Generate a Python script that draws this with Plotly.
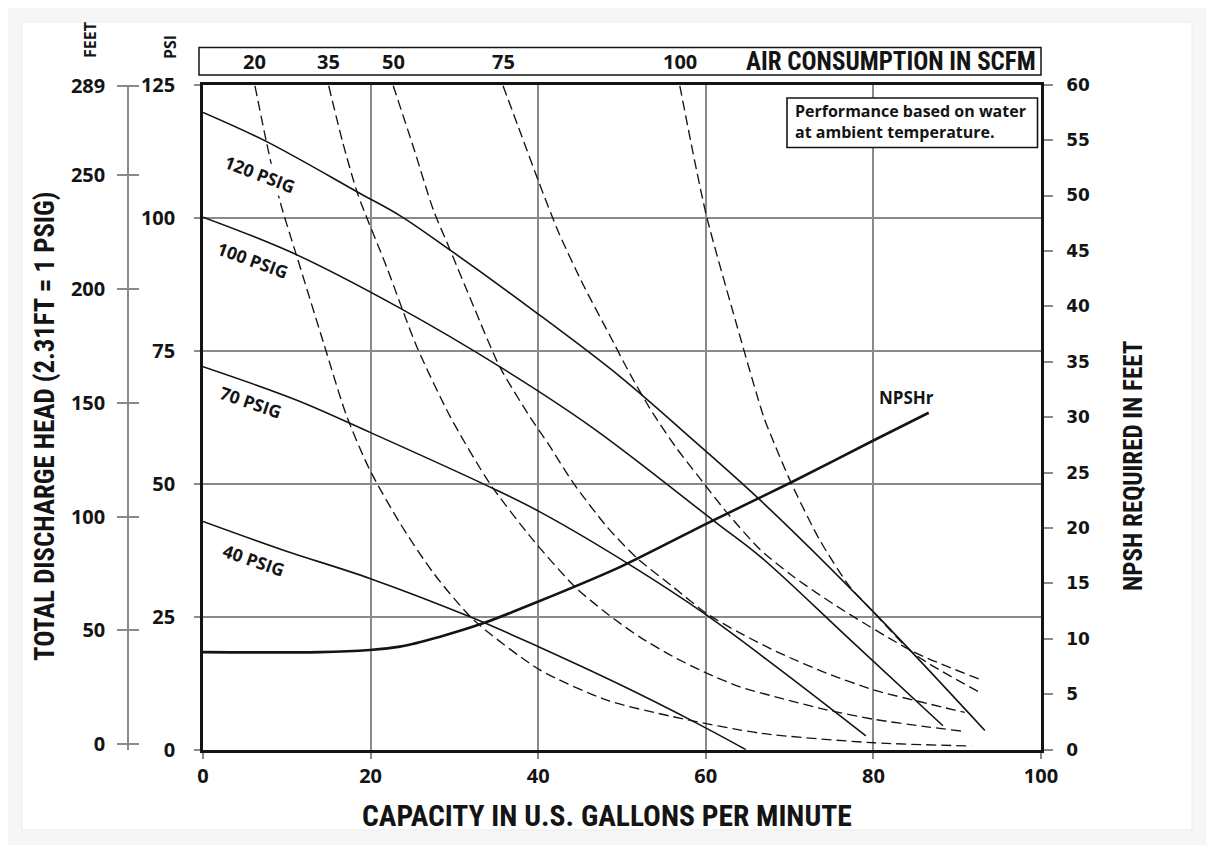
import plotly.graph_objects as go

# ---------------- data ----------------
# Discharge-pressure curves: capacity (US GPM) vs discharge head (PSI)
cap_120 = [0, 7.6, 18.7, 23.5, 29.5, 39.4, 49.8, 58.5, 66.5, 80.0, 93.3]
psi_120 = [119.8, 114.3, 104.6, 100.4, 93.9, 82.6, 70.1, 58.2, 46.9, 25.9, 3.6]

cap_100 = [0, 10.8, 23.5, 35.4, 46.5, 61.3, 66.5, 77.4, 88.3]
psi_100 = [100.1, 93.3, 83.0, 72.0, 60.5, 42.6, 36.3, 20.4, 4.5]

cap_70 = [0, 11.2, 20.0, 34.2, 40.2, 51.0, 60.1, 68.9, 79.1]
psi_70 = [72.0, 65.7, 59.6, 49.4, 44.7, 34.7, 25.3, 15.0, 2.6]

cap_40 = [0, 9.6, 19.9, 32.3, 40.1, 49.8, 58.9, 64.8]
psi_40 = [42.9, 37.5, 32.2, 24.7, 19.3, 12.2, 5.0, 0.0]

# Air consumption curves (SCFM)
air_20_cap = [6.2, 7.6, 9.2, 11.2, 14.4, 17.1, 19.9, 23.5, 27.5, 32.3, 40.2, 48.2, 56.1, 66.5, 80.1, 91.7]
air_20_psi = [124.8, 114.0, 103.0, 92.7, 76.4, 62.9, 52.6, 42.6, 33.2, 24.4, 15.0, 9.3, 6.2, 3.1, 1.3, 0.7]

air_35_cap = [15.0, 16.7, 18.5, 21.9, 25.5, 29.5, 34.2, 39.4, 44.4, 48.2, 52.1, 56.1, 60.1, 64.1, 68.9, 74.4, 80.1, 86.4, 90.5]
air_35_psi = [124.8, 114.0, 104.3, 90.8, 75.8, 62.6, 50.1, 39.4, 30.6, 25.6, 21.2, 17.5, 14.4, 11.8, 9.7, 7.5, 5.7, 4.3, 3.5]

air_50_cap = [22.7, 25.1, 27.5, 29.5, 32.3, 35.4, 39.0, 41.4, 44.2, 48.2, 51.8, 56.1, 60.1, 64.0, 68.9, 74.4, 80.1, 86.4, 90.9]
air_50_psi = [124.8, 113.3, 101.4, 93.9, 83.3, 72.0, 62.6, 57.0, 50.1, 41.9, 36.0, 30.6, 25.6, 22.0, 18.1, 14.4, 11.2, 8.7, 7.0]

air_75_cap = [35.8, 38.0, 40.0, 42.5, 45.4, 48.5, 51.0, 53.7, 56.5, 59.3, 62.5, 66.5, 70.4, 75.6, 84.8, 92.9]
air_75_psi = [124.8, 115.5, 107.0, 97.0, 87.3, 78.0, 70.5, 63.2, 56.7, 51.0, 44.6, 37.6, 32.6, 27.0, 18.4, 13.1]

air_100_cap = [56.9, 58.5, 60.1, 63.3, 66.9, 68.0, 70.2, 73.6, 77.2, 80.0, 84.8, 92.9]
air_100_psi = [124.8, 112.0, 100.2, 82.0, 62.6, 58.2, 50.1, 39.4, 30.6, 25.9, 18.1, 10.6]

# NPSH required (feet)
npsh_cap = [0, 14, 19.9, 23.5, 28.3, 33.4, 39.8, 49.8, 60.1, 70.4, 80.0, 86.6]
npsh_ft = [8.8, 8.8, 9.0, 9.3, 10.2, 11.4, 13.3, 16.5, 20.4, 24.2, 27.9, 30.4]

psig_labels = ["120 PSIG", "100 PSIG", "70 PSIG", "40 PSIG"]
scfm_labels = ["20", "35", "50", "75", "100"]

x_ticks = [0, 20, 40, 60, 80, 100]
psi_ticks = [0, 25, 50, 75, 100, 125]
feet_ticks = [0, 50, 100, 150, 200, 250, 289]
npsh_ticks = list(range(0, 61, 5))

# ---------------- layout helpers ----------------
# page has an 8px body margin; the figure fills the rest of the 1214x853 window
OFF = 8
FW, FH = 1214 - 2 * OFF, 853 - 2 * OFF


def fx(px):
    return (px - OFF) / FW


def fy(py):
    return 1 - (py - OFF) / FH


PX0, PX1 = 203, 1041       # plot area left / right (page px)
PY0, PY1 = 749.7, 84.7     # plot area bottom / top (page px)

INK = "#141414"
GRID = "#8a8a8a"
BOLD = "Open Sans"
COND = "Roboto Condensed, Liberation Sans Narrow, DejaVu Sans Condensed, Arial Narrow, sans-serif"

fig = go.Figure()

solid = [(cap_120, psi_120), (cap_100, psi_100), (cap_70, psi_70), (cap_40, psi_40)]
for xs, ys in solid:
    fig.add_trace(go.Scatter(x=xs, y=ys, mode="lines", hoverinfo="skip", showlegend=False,
                             line=dict(color=INK, width=1.6, shape="spline", smoothing=1.0)))

air = [(air_20_cap, air_20_psi), (air_35_cap, air_35_psi), (air_50_cap, air_50_psi),
       (air_75_cap, air_75_psi), (air_100_cap, air_100_psi)]
for xs, ys in air:
    fig.add_trace(go.Scatter(x=xs, y=ys, mode="lines", hoverinfo="skip", showlegend=False,
                             line=dict(color=INK, width=1.35, dash="10px,5px", shape="spline", smoothing=0.7)))

fig.add_trace(go.Scatter(x=npsh_cap, y=npsh_ft, yaxis="y2", mode="lines", hoverinfo="skip", showlegend=False,
                         line=dict(color=INK, width=2.6, shape="spline", smoothing=0.7)))
# anchors for the feet scale axes
fig.add_trace(go.Scatter(x=[None], y=[None], yaxis="y3", showlegend=False, hoverinfo="skip"))
fig.add_trace(go.Scatter(x=[None], y=[None], yaxis="y4", showlegend=False, hoverinfo="skip"))

# feet axis range compensation (0 ft at 744.3 px, 289 ft at 86 px)
ft_per_px = 289 / (744.3 - 86.0)
ft_lo = 0 - (PY0 - 744.3) * ft_per_px
ft_hi = 289 + (86.0 - PY1) * ft_per_px

tickfont_main = dict(family=BOLD, size=20, color=INK, weight="bold")

fig.update_layout(
    template="none",
    width=FW, height=FH,
    margin=dict(l=0, r=0, t=0, b=0, autoexpand=False),
    paper_bgcolor="#f6f6f6",
    plot_bgcolor="white",
    showlegend=False,
    xaxis=dict(domain=[fx(PX0), fx(PX1)], range=[0, 100], tickvals=x_ticks, automargin=False,
               showgrid=True, gridcolor=GRID, gridwidth=1.5,
               showline=True, linecolor=INK, linewidth=2.6, mirror=True,
               ticks="outside", ticklen=6, tickcolor=GRID, tickwidth=1.5,
               tickfont=tickfont_main, ticklabelstandoff=0, zeroline=False, fixedrange=True),
    yaxis=dict(domain=[fy(PY0), fy(PY1)], range=[0, 125], tickvals=psi_ticks, automargin=False,
               showgrid=True, gridcolor=GRID, gridwidth=1.5,
               showline=True, linecolor=INK, linewidth=2.6,
               ticks="outside", ticklen=6, tickcolor=GRID, tickwidth=1.5,
               tickfont=tickfont_main, ticklabelstandoff=15, zeroline=False, fixedrange=True),
    yaxis2=dict(overlaying="y", side="right", range=[0, 60], tickvals=npsh_ticks, automargin=False,
                showgrid=False, showline=True, linecolor=INK, linewidth=2.6,
                ticks="outside", ticklen=9, tickcolor=GRID, tickwidth=1.5,
                tickfont=dict(family="DejaVu Sans", size=17, color=INK, weight="bold"),
                ticklabelstandoff=10, zeroline=False, fixedrange=True),
    yaxis3=dict(overlaying="y", anchor="free", position=fx(128), side="left", automargin=False,
                range=[ft_lo, ft_hi], tickvals=feet_ticks,
                showgrid=False, showline=True, linecolor=GRID, linewidth=1.5,
                ticks="outside", ticklen=10, tickcolor=GRID, tickwidth=1.5,
                tickfont=tickfont_main, ticklabelstandoff=8, zeroline=False, fixedrange=True),
    yaxis4=dict(overlaying="y", anchor="free", position=fx(128), side="left", automargin=False,
                range=[ft_lo, ft_hi], tickvals=feet_ticks, showticklabels=False,
                showgrid=False, showline=False,
                ticks="inside", ticklen=10, tickcolor=GRID, tickwidth=1.5,
                zeroline=False, fixedrange=True),
)

shapes = [
    # white card
    dict(type="rect", xref="paper", yref="paper", x0=fx(22), x1=fx(1192), y0=fy(830), y1=fy(22),
         fillcolor="white", line=dict(color="#ebebeb", width=1), layer="below"),
    # air consumption strip
    dict(type="rect", xref="paper", yref="paper", x0=fx(199), x1=fx(1041), y0=fy(75), y1=fy(47.5),
         fillcolor="white", line=dict(color=INK, width=1.5), layer="above"),
    # note box
    dict(type="rect", xref="paper", yref="paper", x0=fx(787), x1=fx(1037.5), y0=fy(147.5), y1=fy(98),
         fillcolor="white", line=dict(color=INK, width=1.6), layer="above"),
]
fig.update_layout(shapes=shapes)


def label(text, px, py, size, family=BOLD, angle=0, **kw):
    d = dict(text=text, xref="paper", yref="paper", x=fx(px), y=fy(py), showarrow=False,
             xanchor="center", yanchor="middle", textangle=angle,
             font=dict(family=family, size=size, color=INK, weight="bold"))
    d.update(kw)
    return d


ann = []
# pressure curve labels
label_pos = [(260, 174, 21), (253, 260, 20), (251, 402, 19), (254, 560, 19)]
for text, (px, py, ang) in zip(psig_labels, label_pos):
    ann.append(label(text, px, py, 17.5, angle=ang, bgcolor="white", borderpad=1))

# SCFM labels above the top of each air curve
for text, xs in zip(scfm_labels, [air_20_cap, air_35_cap, air_50_cap, air_75_cap, air_100_cap]):
    ann.append(dict(text=text, xref="x", yref="paper", x=xs[0], y=fy(62), showarrow=False,
                    xanchor="center", yanchor="middle",
                    font=dict(family=BOLD, size=20, color=INK, weight="bold")))
ann.append(label("AIR CONSUMPTION IN SCFM", 1038, 62, 25, family=COND, xanchor="right"))

# note
ann.append(label("Performance based on water<br>at ambient temperature.", 793, 121.5, 16,
                 xanchor="left", align="left"))

# NPSHr label
ann.append(label("NPSHr", 906, 397, 17))

# axis titles
ann.append(label("CAPACITY IN U.S. GALLONS PER MINUTE", 607, 816, 29.5, family=COND))
ann.append(label("TOTAL DISCHARGE HEAD (2.31FT = 1 PSIG)", 45, 427, 26.8, family=COND, angle=-90))
ann.append(label("NPSH REQUIRED IN FEET", 1133, 466, 25, family=COND, angle=-90))
ann.append(label("PSI", 170, 47, 16, angle=-90))
ann.append(label("FEET", 90, 40, 16, angle=-90))

fig.update_layout(annotations=ann)

fig.write_html("out.html")
